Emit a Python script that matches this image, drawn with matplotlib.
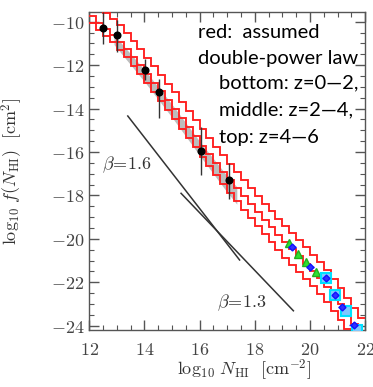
import matplotlib
matplotlib.use("Agg")
import matplotlib.pyplot as plt
from matplotlib.ticker import MultipleLocator, FuncFormatter
import numpy as np

plt.rcParams['mathtext.fontset'] = 'cm'

# ---------------- data ----------------
bin_edges = [12.0 + 0.25 * i for i in range(41)]

# model staircases (log10 f per 0.25-dex bin)
model_low = [-10.05, -10.36, -10.66, -10.94, -11.28, -11.64, -12.02, -12.40, -12.81, -13.23,
             -13.64, -14.06, -14.47, -14.92, -15.36, -15.79, -16.23, -16.64, -17.06, -17.47,
             -17.87, -18.26, -18.65, -19.03, -19.42, -19.78, -20.14, -20.51, -20.86, -21.18,
             -21.51, -21.84, -22.17, -22.52, -22.90, -23.30, -23.72, -24.17, -24.62, -25.07]
model_mid = [-9.75, -10.05, -10.33, -10.60, -10.92, -11.27, -11.63, -12.00, -12.40, -12.80,
             -13.20, -13.60, -14.00, -14.43, -14.86, -15.28, -15.70, -16.10, -16.50, -16.90,
             -17.28, -17.66, -18.04, -18.40, -18.78, -19.12, -19.47, -19.82, -20.16, -20.48,
             -20.81, -21.14, -21.47, -21.82, -22.20, -22.60, -23.02, -23.47, -23.92, -24.37]
model_top = [-9.00, -9.30, -9.58, -9.85, -10.17, -10.52, -10.88, -11.25, -11.65, -12.05,
             -12.45, -12.85, -13.25, -13.68, -14.11, -14.53, -14.95, -15.35, -15.75, -16.15,
             -16.53, -16.91, -17.29, -17.65, -18.03, -18.37, -18.72, -19.07, -19.41, -19.73,
             -20.06, -20.39, -20.72, -21.07, -21.45, -21.85, -22.27, -22.72, -23.17, -23.62]

# gray band
band_x = [12.9, 14.0, 15.0, 16.0, 17.0, 17.35]
band_hi = [-10.6, -12.2, -13.8, -15.5, -17.1, -17.6]
band_lo = [-11.05, -12.75, -14.4, -16.15, -17.85, -18.4]

# black data points
pt_x = [12.5, 13.0, 14.03, 14.54, 16.05, 17.07]
pt_y = [-10.27, -10.6, -12.2, -13.22, -15.94, -17.29]
pt_err_lo = [0.75, 0.8, 0.5, 1.2, 1.1, 0.85]
pt_err_hi = [0.7, 0.7, 0.5, 0.6, 1.1, 0.8]

# high column density points
green_x = [19.25, 19.56, 19.86, 20.22]
green_y = [-20.2, -20.71, -21.05, -21.54]
cyan_x = [20.57, 20.91, 21.31, 21.72]
cyan_y = [-21.82, -22.59, -23.31, -24.2]
blue_x = [19.34, 20.0, 20.57, 20.91, 21.15, 21.58]
blue_y = [-20.36, -21.28, -21.82, -22.59, -23.12, -23.97]
blue_xerr = [0.15, 0.15, 0.12, 0.12, 0.12, 0.15]

# power-law reference lines
beta16_x = [13.4, 17.45]
beta16_y = [-14.34, -20.97]
beta13_x = [15.33, 19.4]
beta13_y = [-17.9, -23.31]

notes = ["red:  assumed", "double-power law", "bottom: z=0\u20142,",
         "middle: z=2\u20144,", "top: z=4\u20146"]

# ---------------- figure ----------------
fig = plt.figure(figsize=(3.73, 3.87), dpi=100)
ax = fig.add_axes([0.239, 0.147, 0.740, 0.822])

ax.fill_between(band_x, band_lo, band_hi, color='#bdbdbd', lw=0, zorder=1)

for vals in (model_low, model_mid, model_top):
    ax.stairs(vals, bin_edges, baseline=None, color='#ff1f1f', lw=1.35, zorder=3)

ax.plot(beta16_x, beta16_y, color='#333333', lw=1.1, zorder=2)
ax.plot(beta13_x, beta13_y, color='#333333', lw=1.1, zorder=2)

ax.errorbar(pt_x, pt_y, yerr=[pt_err_lo, pt_err_hi], fmt='o', color='black',
            ms=4.8, ecolor='#333333', elinewidth=1.0, capsize=0, zorder=5)

ax.plot(green_x, green_y, '^', color='#30e030', mec='#20b020', ms=6, zorder=6)
ax.plot(cyan_x, cyan_y, 's', mfc='#7fc8ff', mec='#00e0ff', mew=1.5, ms=6.5, zorder=6)
ax.errorbar(blue_x, blue_y, xerr=blue_xerr, fmt='D', mfc='#3030ff', mec='#1010ff',
            ms=3.5, ecolor='#2020ff', elinewidth=1.0, capsize=0, zorder=7)

ax.text(12.47, -16.6, r'$\beta\!=\!1.6$', fontsize=13, color='#333333', va='center', ha='left')
ax.text(16.64, -22.96, r'$\beta\!=\!1.3$', fontsize=13, color='#333333', va='center', ha='left')

ys = [0.937, 0.855, 0.777, 0.692, 0.604]
xs = [0.395, 0.395, 0.471, 0.471, 0.471]
for t, x, y in zip(notes, xs, ys):
    ax.text(x, y, t, transform=ax.transAxes, fontsize=14.5, family='Lato',
            va='center', ha='left', color='black')

ax.set_xlim(12, 22)
ax.set_ylim(-24.2, -9.55)
ax.xaxis.set_major_locator(MultipleLocator(2))
ax.xaxis.set_minor_locator(MultipleLocator(0.5))
ax.yaxis.set_major_locator(MultipleLocator(2))
ax.yaxis.set_minor_locator(MultipleLocator(0.5))
fmt = FuncFormatter(lambda v, p: r'$%d$' % int(round(v)))
ax.xaxis.set_major_formatter(fmt)
ax.yaxis.set_major_formatter(fmt)
ax.tick_params(which='both', direction='in', top=True, right=True, color='#555555',
               labelcolor='#444444', labelsize=13)
ax.tick_params(axis='x', which='major', pad=8)
ax.tick_params(which='major', length=7, width=1)
ax.tick_params(which='minor', length=3.5, width=0.8)
for s in ax.spines.values():
    s.set_color('#555555')
    s.set_linewidth(1.0)

ax.set_xlabel(r'$\log_{10}\,N_{\rm HI}\ \ [{\rm cm}^{-2}]$', fontsize=13, color='#333333')
ax.set_ylabel(r'$\log_{10}\,f(N_{\rm HI})\ \ [{\rm cm}^{2}]$', fontsize=13, color='#333333')
ax.xaxis.set_label_coords(0.56, -0.088)
ax.yaxis.set_label_coords(-0.232, 0.5)

fig.savefig('out.png', dpi=100)
